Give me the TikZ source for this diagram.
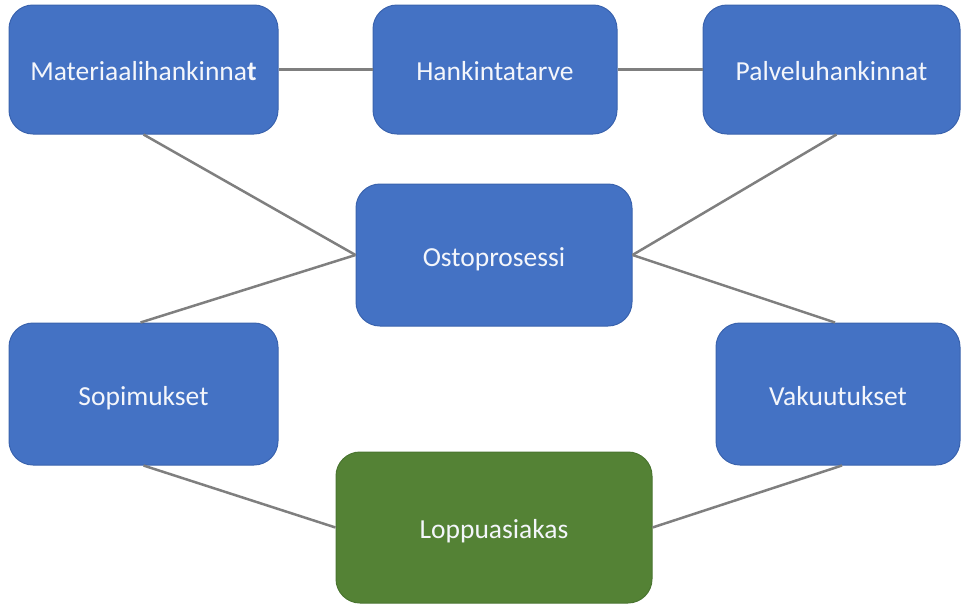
\documentclass[tikz,border=0pt]{standalone}
\usepackage{fontspec}
\setmainfont{Carlito}
\definecolor{boxblue}{HTML}{4472C4}
\definecolor{boxblueline}{HTML}{3A63AE}
\definecolor{boxgreen}{HTML}{548235}
\definecolor{boxgreenline}{HTML}{4A7530}
\definecolor{linkgray}{HTML}{7F7F7F}
\definecolor{txt}{HTML}{F4F6FB}
\begin{document}
\begin{tikzpicture}[x=1pt,y=-1pt,
  card/.style={draw=boxblueline, line width=1pt, fill=boxblue, rounded corners=24pt,
    text=txt, font=\fontsize{27.5}{32}\selectfont, inner sep=0pt,
    text height=22pt, text depth=0pt},
  gcard/.style={card, draw=boxgreenline, fill=boxgreen},
  link/.style={draw=linkgray, line width=2.5pt}]
\useasboundingbox (0,0) rectangle (961,605);
\node[card, minimum width=269pt, minimum height=129pt] (mat) at (143.5,69.5) {Materiaalihankinna\textbf{t}};
\node[card, minimum width=244pt, minimum height=129pt] (hank) at (495,69.5) {Hankintatarve};
\node[card, minimum width=257pt, minimum height=129pt] (palv) at (831.5,69.5) {Palveluhankinnat};
\node[card, minimum width=276pt, minimum height=142pt] (osto) at (494,255) {Ostoprosessi};
\node[card, minimum width=269pt, minimum height=142pt] (sop) at (143.5,394) {Sopimukset};
\node[card, minimum width=244pt, minimum height=142pt] (vak) at (838,394) {Vakuutukset};
\node[gcard, minimum width=316pt, minimum height=151pt] (lopp) at (494,527.5) {Loppuasiakas};
\draw[link] (mat.east) -- (hank.west);
\draw[link] (hank.east) -- (palv.west);
\draw[link] (mat.south) -- (osto.west);
\draw[link] ([xshift=5pt]palv.south) -- (osto.east);
\draw[link] (osto.west) -- ([xshift=-3pt]sop.north);
\draw[link] (osto.east) -- ([xshift=-3pt]vak.north);
\draw[link] (sop.south) -- (lopp.west);
\draw[link] ([xshift=4pt]vak.south) -- (lopp.east);
\end{tikzpicture}
\end{document}
